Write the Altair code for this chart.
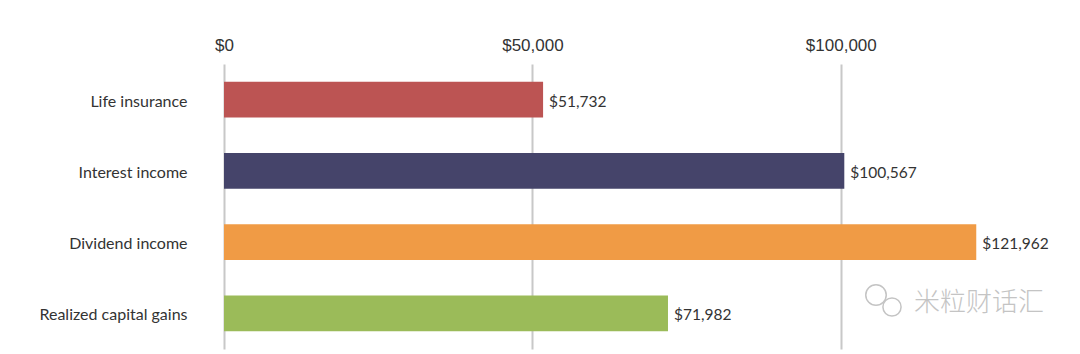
import altair as alt
import pandas as pd

categories = ["Life insurance", "Interest income", "Dividend income", "Realized capital gains"]
values = [51732, 100567, 121962, 71982]
labels = ["$51,732", "$100,567", "$121,962", "$71,982"]
colors = ["#BC5453", "#45446A", "#F09B45", "#9BBB59"]
tick_values = [0, 50000, 100000]

df = pd.DataFrame({"cat": categories, "val": values, "lab": labels})

y = alt.Y("cat:N", sort=categories, title=None,
          scale=alt.Scale(paddingInner=0.5, paddingOuter=0.25),
          axis=alt.Axis(domain=False, ticks=False, grid=False, labelPadding=37,
                        labelFont="Lato", labelFontSize=16, labelColor="#333333", labelBaseline="middle", labelOffset=2))
x = alt.X("val:Q", title=None,
          scale=alt.Scale(domain=[0, 125000], nice=False),
          axis=alt.Axis(orient="top", values=tick_values, format="$,.0f", domain=False,
                        ticks=False, labelPadding=10, labelFont="Liberation Sans",
                        labelFontSize=17, labelColor="#333333", gridColor="#C8C8C8",
                        gridWidth=2, labelFlush=False))

bars = alt.Chart(df).mark_bar().encode(
    x=x, y=y,
    color=alt.Color("cat:N", scale=alt.Scale(domain=categories, range=colors), legend=None),
)
text = alt.Chart(df).mark_text(align="left", dx=6, dy=2, font="Lato", fontSize=15.5, color="#333333").encode(
    x="val:Q", y=alt.Y("cat:N", sort=categories), text="lab:N"
)
wm = alt.Chart(pd.DataFrame({"t": ["米粒财话汇"]})).mark_text(
    align="left", baseline="middle", font="Noto Sans CJK SC", fontSize=26, color="#C4C4C4", fontWeight=300
).encode(x=alt.value(690), y=alt.value(239), text="t:N")
icon = alt.Chart(pd.DataFrame({"px": [652, 668], "py": [231, 243], "s": [420, 330]})).mark_point(
    shape="circle", filled=True, fill="white", stroke="#C4C4C4", strokeWidth=1.5, opacity=1
).encode(x=alt.X("px:Q", scale=None), y=alt.Y("py:Q", scale=None), size=alt.Size("s:Q", scale=None, legend=None))

chart = alt.layer(bars, text, wm, icon).properties(
    width=771, height=285,
    autosize=alt.AutoSizeParams(type="none"),
    padding={"left": 224, "top": 64, "right": 85, "bottom": 5},
).configure_view(stroke=None)

chart.save("out.html", embed_options={"renderer": "svg", "actions": False})
